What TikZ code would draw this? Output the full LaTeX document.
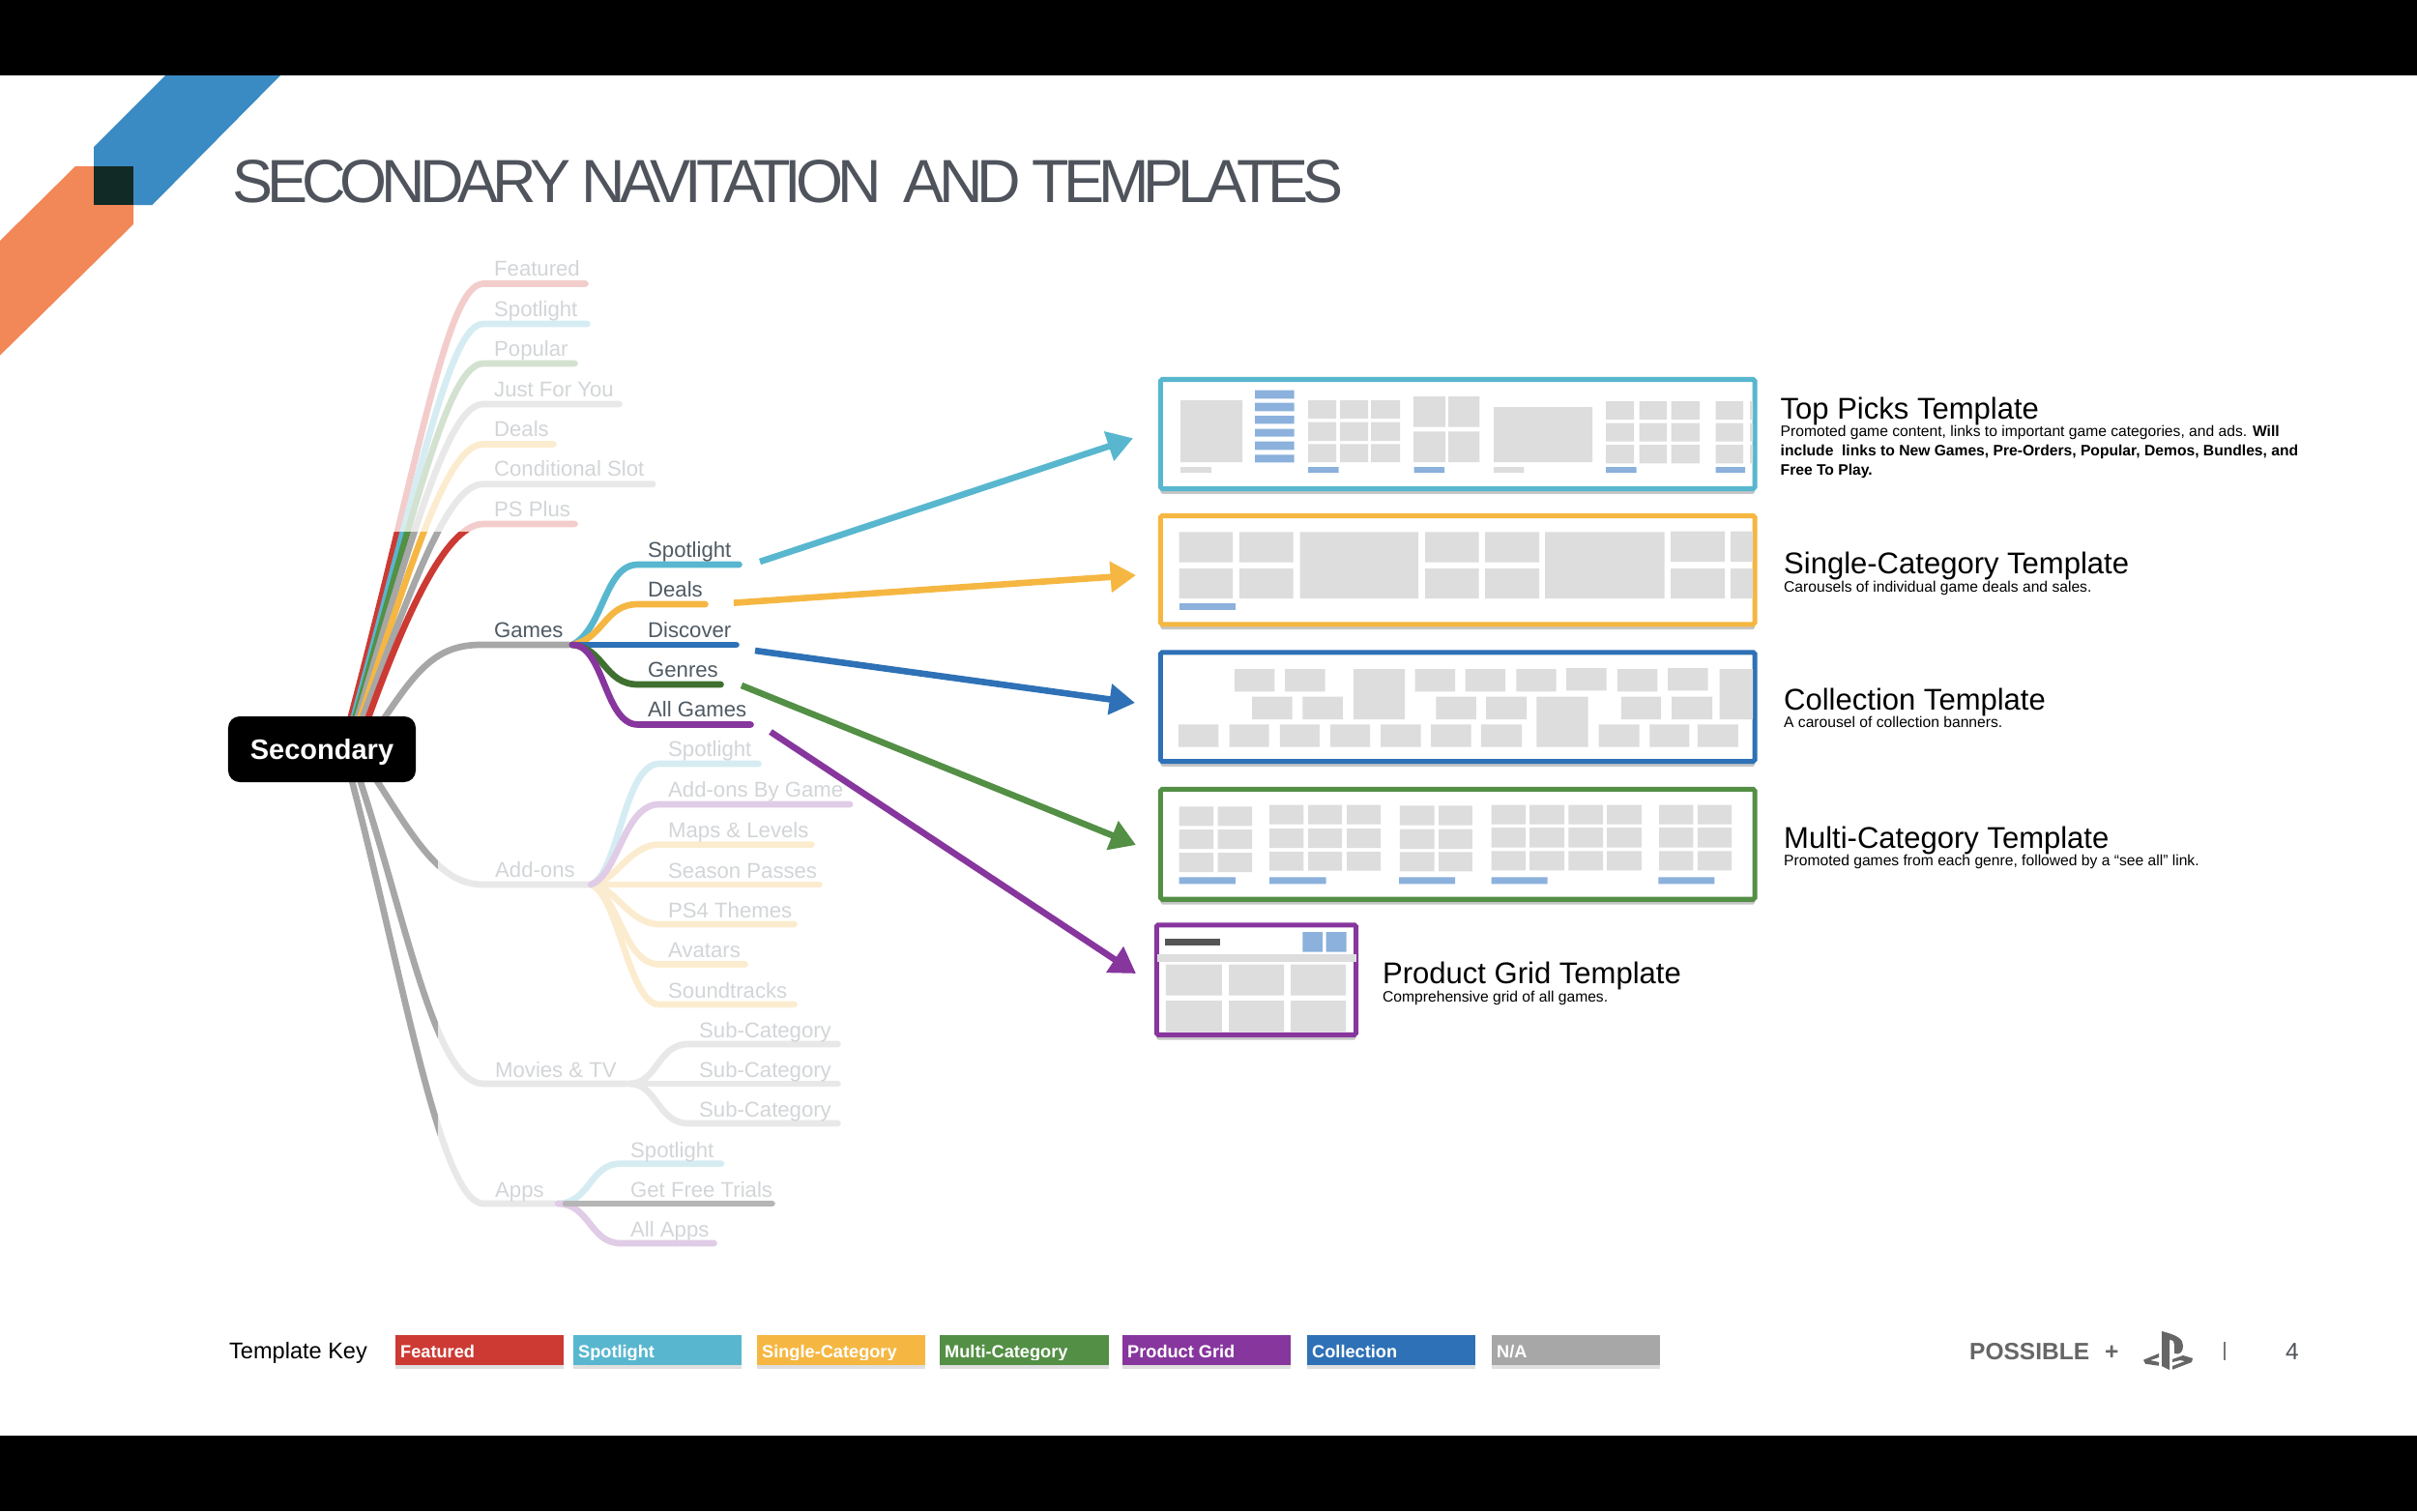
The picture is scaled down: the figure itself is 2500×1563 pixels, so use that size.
\documentclass[tikz,border=0pt]{standalone}
\usepackage{fontspec}
\setmainfont{Liberation Sans}
\newfontfamily\titlefont[LetterSpace=-9.5]{Liberation Sans}
\usetikzlibrary{arrows.meta,shadows}
\definecolor{tred}{HTML}{CC3A33}
\definecolor{tcyan}{HTML}{58B7CF}
\definecolor{tyellow}{HTML}{F5B742}
\definecolor{tgreen}{HTML}{538F45}
\definecolor{tdkgreen}{HTML}{3F7030}
\definecolor{tpurple}{HTML}{87369E}
\definecolor{tblue}{HTML}{2E71B6}
\definecolor{tgray}{HTML}{A6A7A6}
\definecolor{tile}{HTML}{DDDDDD}
\definecolor{tilebar}{HTML}{8BB1DC}
\definecolor{tiledark}{HTML}{555555}
\definecolor{ink}{HTML}{4F5A63}
\definecolor{titleink}{HTML}{4F535C}
\definecolor{footink}{HTML}{666666}
\definecolor{sepink}{HTML}{777777}
\definecolor{trialgray}{HTML}{B5B5B5}
\definecolor{logoblue}{HTML}{3A8AC4}
\definecolor{logoorange}{HTML}{F28757}
\definecolor{logodark}{HTML}{122A25}
\tikzset{
  branch/.style={line width=7.6pt,line cap=round,shorten >=4pt},
  jump/.style={line width=7.5pt,-{Triangle[length=30pt,width=35pt]}},
  lbl/.style={anchor=base west,text=ink,font=\fontsize{25.2pt}{30pt}\selectfont},
  tframe/.style={line width=5.7pt,fill=white,rounded corners=2pt,
    drop shadow={shadow xshift=0pt,shadow yshift=-6pt,opacity=.45}},
  ttitle/.style={anchor=base west,font=\fontsize{35.3pt}{40pt}\selectfont},
  tdesc/.style={anchor=base west,align=left,font=\fontsize{17.8pt}{22.5pt}\selectfont},
  keybox/.style={minimum width=6.98cm,minimum height=1.24cm,
    drop shadow={shadow xshift=0pt,shadow yshift=-4pt,opacity=.25}},
  keytext/.style={anchor=base west,text=white,font=\bfseries\fontsize{20.7pt}{24pt}\selectfont},
  foot/.style={anchor=base west,text=footink,font=\bfseries\fontsize{27.9pt}{32pt}\selectfont}
}
\begin{document}
\begin{tikzpicture}[x=0.04cm,y=0.04cm]
\tikzstyle{every node}+=[inner sep=0pt]
\useasboundingbox (0,0) rectangle (2500,-1563);
\fill [white] (0,0) rectangle (2500,-1563);
% slide bars and corner logo
\fill [black] (0,0) rectangle (2500,-78);
\fill [black] (0,-1484.5) rectangle (2500,-1563);
\fill [logoblue] (171,-78) -- (290,-78) -- (157.5,-212) -- (97,-212) -- (97,-152) -- cycle;
\fill [logoorange] (78,-172) -- (138,-172) -- (138,-232) -- (0,-367.6) -- (0,-249) -- cycle;
\fill [logodark] (97,-172) rectangle (138,-212);
\node [anchor=base west,text=titleink,font=\titlefont\fontsize{71.7pt}{80pt}\selectfont] (slidetitle) at (240,-209) {SECONDARY NAVITATION\ \ AND TEMPLATES};

% first level, top fan
\coordinate (fana) at (362,-745);
\coordinate (fanb) at (365,-745);
\coordinate (fanc) at (367,-745);
\coordinate (fand) at (369,-745);
\coordinate (fane) at (372,-745);
\coordinate (fanf) at (374,-745);
\coordinate (fang) at (380,-745);
\coordinate (featurede) at (609,-293.5);
\coordinate (spotlighte) at (611,-335);
\coordinate (populare) at (598,-376);
\coordinate (juste) at (644,-418);
\coordinate (dealse) at (576,-459.5);
\coordinate (conde) at (678.6,-500.7);
\coordinate (plus) at (598,-542);
\draw [branch,tred] (fana) .. controls (435,-470) and (462,-293.5) .. (500,-293.5) -- (featurede);
\draw [branch,tcyan] (fanb) .. controls (435,-490) and (465,-335) .. (500,-335) -- (spotlighte);
\draw [branch,tgreen] (fanc) .. controls (433,-510) and (465,-376) .. (500,-376) -- (populare);
\draw [branch,tgray] (fand) .. controls (432,-535) and (465,-418) .. (500,-418) -- (juste);
\draw [branch,tyellow] (fane) .. controls (432,-560) and (465,-459.5) .. (500,-459.5) -- (dealse);
\draw [branch,tgray] (fanf) .. controls (432,-590) and (465,-500.7) .. (500,-500.7) -- (conde);
\draw [branch,tred] (fang) .. controls (425,-620) and (465,-542) .. (500,-542) -- (plus);
\node [lbl] (featured) at (511,-285.5) {Featured};
\node [lbl] (spotlight) at (511,-327) {Spotlight};
\node [lbl] (popular) at (511,-368) {Popular};
\node [lbl] (just) at (511,-410) {Just For You};
\node [lbl] (deals) at (511,-451.5) {Deals};
\node [lbl] (cond) at (511,-492.7) {Conditional Slot};
\node [lbl] (psplus) at (511,-534) {PS Plus};

% games
\coordinate (fanh) at (396,-745);
\coordinate (gamesfork) at (592,-667);
\coordinate (gspote) at (768,-584);
\coordinate (gdeale) at (733,-625);
\coordinate (gdisce) at (765,-667);
\coordinate (ggenre) at (749,-708);
\coordinate (gallge) at (780,-749.5);
\draw [branch,tgray] (fanh) .. controls (430,-695) and (450,-667) .. (497,-667) -- (gamesfork);
\draw [branch,tcyan] (gamesfork) .. controls (625,-650) and (625,-584) .. (660,-584) -- (gspote);
\draw [branch,tyellow] (gamesfork) .. controls (625,-660) and (625,-625) .. (660,-625) -- (gdeale);
\draw [branch,tblue] (gamesfork) -- (gdisce);
\draw [branch,tdkgreen] (gamesfork) .. controls (625,-670) and (625,-708) .. (660,-708) -- (ggenre);
\draw [branch,tpurple] (gamesfork) .. controls (625,-667) and (625,-749.5) .. (660,-749.5) -- (gallge);
\node [lbl] (games) at (511,-659) {Games};
\node [lbl] (gspot) at (670,-576) {Spotlight};
\node [lbl] (gdeal) at (670,-617) {Deals};
\node [lbl] (gdisc) at (670,-659) {Discover};
\node [lbl] (ggenr) at (670,-700) {Genres};
\node [lbl] (gallg) at (670,-741.5) {All Games};

% lower branches
\coordinate (fani) at (385,-800);
\coordinate (fanj) at (370,-800);
\coordinate (fank) at (362,-800);
\coordinate (addfork) at (611,-915);
\coordinate (movfork) at (651,-1121);
\coordinate (appfork) at (577,-1245);
\draw [branch,tgray] (fani) .. controls (430,-870) and (455,-915) .. (500,-915) -- (addfork);
\draw [branch,tgray] (fanj) .. controls (420,-950) and (450,-1121) .. (500,-1121) -- (movfork);
\draw [branch,tgray] (fank) .. controls (415,-1000) and (455,-1245) .. (500,-1245) -- (appfork);
\coordinate (aspote) at (788,-790);
\coordinate (agamee) at (882.6,-832);
\coordinate (amape) at (843,-873.6);
\coordinate (aseae) at (851,-915);
\coordinate (athee) at (825,-956);
\coordinate (aavae) at (774,-997.5);
\coordinate (asnde) at (825,-1039);
\draw [branch,tyellow] (addfork) -- (aseae);
\draw [branch,tyellow] (addfork) .. controls (635,-915) and (650,-873.6) .. (682,-873.6) -- (amape);
\draw [branch,tyellow] (addfork) .. controls (635,-915) and (650,-956) .. (682,-956) -- (athee);
\draw [branch,tyellow] (addfork) .. controls (640,-925) and (645,-997.5) .. (682,-997.5) -- (aavae);
\draw [branch,tyellow] (addfork) .. controls (640,-925) and (650,-1039) .. (682,-1039) -- (asnde);
\draw [branch,tcyan] (addfork) .. controls (640,-905) and (645,-790) .. (682,-790) -- (aspote);
\draw [branch,tpurple] (addfork) .. controls (640,-905) and (645,-832) .. (682,-832) -- (agamee);
\coordinate (msuba) at (870,-1080);
\coordinate (msubb) at (870,-1121);
\coordinate (msubc) at (870,-1162);
\draw [branch,tgray] (movfork) .. controls (680,-1121) and (680,-1080) .. (712,-1080) -- (msuba);
\draw [branch,tgray] (movfork) -- (msubb);
\draw [branch,tgray] (movfork) .. controls (680,-1121) and (680,-1162) .. (712,-1162) -- (msubc);
\coordinate (pspote) at (749.5,-1203.6);
\coordinate (pfreee) at (802,-1245);
\coordinate (palle) at (742,-1286);
\draw [branch,tcyan] (appfork) .. controls (610,-1245) and (610,-1203.6) .. (642,-1203.6) -- (pspote);
\draw [branch,tpurple] (appfork) .. controls (610,-1245) and (610,-1286) .. (642,-1286) -- (palle);
\node [lbl] (addons) at (512,-907.5) {Add-ons};
\node [lbl] (movies) at (512,-1114.5) {Movies \& TV};
\node [lbl] (apps) at (512,-1238.5) {Apps};
\node [lbl] (aspot) at (691,-782.5) {Spotlight};
\node [lbl] (agame) at (691,-824.5) {Add-ons By Game};
\node [lbl] (amap) at (691,-866.5) {Maps \& Levels};
\node [lbl] (asea) at (691,-908) {Season Passes};
\node [lbl] (athe) at (691,-949) {PS4 Themes};
\node [lbl] (aava) at (691,-990.5) {Avatars};
\node [lbl] (asnd) at (691,-1032) {Soundtracks};
\node [lbl] (msa) at (723,-1073.5) {Sub-Category};
\node [lbl] (msb) at (723,-1114.5) {Sub-Category};
\node [lbl] (msc) at (723,-1155.5) {Sub-Category};
\node [lbl] (pspot) at (652,-1197) {Spotlight};
\node [lbl] (pfree) at (652,-1238.5) {Get Free Trials};
\node [lbl] (pall) at (652,-1279.5) {All Apps};

% white veils over the inactive branches
\fill [white,opacity=.75] (405,-250) rectangle (700,-550);
\fill [white,opacity=.75] (452.5,-756) rectangle (900,-1300);
\draw [branch,trialgray] (appfork) ++(8,0) -- (pfreee);

\node [fill=black,rounded corners=13.6pt,minimum width=7.76cm,minimum height=2.72cm,text=white,text depth=0pt,font=\bfseries\fontsize{33pt}{38pt}\selectfont] (secondary) at (333,-775) {Secondary};

% template frames
\node [tframe,draw=tcyan,minimum width=24.58cm,minimum height=4.52cm] (toppicks) at (1507.75,-449) {};
\node [tframe,draw=tyellow,minimum width=24.58cm,minimum height=4.49cm] (single) at (1507.75,-589.65) {};
\node [tframe,draw=tblue,minimum width=24.58cm,minimum height=4.51cm] (collection) at (1507.75,-731.15) {};
\node [tframe,draw=tgreen,minimum width=24.58cm,minimum height=4.55cm] (multi) at (1507.75,-873.35) {};
\node [tframe,draw=tpurple,minimum width=8.25cm,minimum height=4.54cm] (grid) at (1299.4,-1013.5) {};

% top picks tiles
\fill [tile] (1221,-414) rectangle (1285,-478) (1221,-483) rectangle (1253,-489);
\fill [tilebar] (1298,-403.7) rectangle (1338.5,-412.3) (1298,-416.7) rectangle (1338.5,-425.3) (1298,-430) rectangle (1338.5,-438.3) (1298,-443.7) rectangle (1338.5,-451.7) (1298,-456.7) rectangle (1338.5,-465.3) (1298,-470.3) rectangle (1338.5,-478.3);
\fill [tile] (1353,-414) rectangle (1382,-433) (1386,-414) rectangle (1415,-433) (1418,-414) rectangle (1448,-433);
\fill [tile] (1353,-436.7) rectangle (1382,-456) (1386,-436.7) rectangle (1415,-456) (1418,-436.7) rectangle (1448,-456);
\fill [tile] (1353,-459.3) rectangle (1382,-478) (1386,-459.3) rectangle (1415,-478) (1418,-459.3) rectangle (1448,-478);
\fill [tile] (1462,-410) rectangle (1495,-441.7) (1498,-410) rectangle (1530.4,-441.7) (1462,-446.3) rectangle (1495,-478) (1498,-446.3) rectangle (1530.4,-478);
\fill [tile] (1545,-421) rectangle (1647,-478) (1545,-483) rectangle (1576.4,-489);
\fill [tile] (1661,-415) rectangle (1690,-434) (1695.6,-415) rectangle (1724,-434) (1728.7,-415) rectangle (1758,-434) (1774.6,-415) rectangle (1803,-434) (1810,-415) rectangle (1813,-434);
\fill [tile] (1661,-437.7) rectangle (1690,-456.7) (1695.6,-437.7) rectangle (1724,-456.7) (1728.7,-437.7) rectangle (1758,-456.7) (1774.6,-437.7) rectangle (1803,-456.7) (1810,-437.7) rectangle (1813,-456.7);
\fill [tile] (1661,-460) rectangle (1690,-479.3) (1695.6,-460) rectangle (1724,-479.3) (1728.7,-460) rectangle (1758,-479.3) (1774.6,-460) rectangle (1803,-479.3) (1810,-460) rectangle (1813,-479.3);
\fill [tilebar] (1353,-483) rectangle (1384.5,-489) (1462.6,-483) rectangle (1494,-489) (1661,-483) rectangle (1692.5,-489) (1774.6,-483) rectangle (1805,-489);

% single category tiles
\fill [tile] (1219.7,-550.3) rectangle (1275,-581.7) (1281.8,-550.3) rectangle (1337.6,-581.7) (1474,-550.3) rectangle (1529.5,-581.7) (1536,-550.3) rectangle (1592,-581.7) (1728,-549.7) rectangle (1784,-581) (1790,-549.7) rectangle (1813,-581);
\fill [tile] (1219.7,-588) rectangle (1275,-619) (1281.8,-588) rectangle (1337.6,-619) (1474,-588) rectangle (1529.5,-619) (1536,-588) rectangle (1592,-619) (1728,-588) rectangle (1784,-619) (1790,-588) rectangle (1813,-619);
\fill [tile] (1344.7,-550.3) rectangle (1467,-619) (1598,-550.3) rectangle (1721.5,-619);
\fill [tilebar] (1219.7,-624.3) rectangle (1277.8,-631);

% collection tiles
\fill [tile] (1276.9,-692) rectangle (1318.4,-715.3) (1329.1,-692) rectangle (1370.6,-715.3) (1400.1,-692) rectangle (1453.2,-744) (1463.5,-692) rectangle (1505,-715.3) (1515.7,-692) rectangle (1557.2,-715.3) (1568.4,-692) rectangle (1609.5,-715.3) (1620.2,-691) rectangle (1661.7,-714.3) (1672.9,-692) rectangle (1714.4,-715.3) (1725.1,-691) rectangle (1766.6,-714.3) (1778.7,-692) rectangle (1813,-744);
\fill [tile] (1295.2,-720.7) rectangle (1336.7,-744) (1347.4,-720.7) rectangle (1388.9,-744) (1485.4,-720.7) rectangle (1526.9,-744) (1537.1,-720.7) rectangle (1579.1,-744) (1589.4,-720.7) rectangle (1642.5,-772.7) (1676.9,-720.7) rectangle (1718,-744) (1729.1,-720.7) rectangle (1771.1,-744);
\fill [tile] (1218.8,-749.3) rectangle (1260.4,-772.7) (1271.5,-749.3) rectangle (1312.6,-772.7) (1323.8,-749.3) rectangle (1364.8,-772.7) (1376,-749.3) rectangle (1417,-772.7) (1428.2,-749.3) rectangle (1469.7,-772.7) (1480,-749.3) rectangle (1521.5,-772.7) (1531.8,-749.3) rectangle (1574.2,-772.7) (1653.7,-749.3) rectangle (1695.6,-772.7) (1706.3,-749.3) rectangle (1747.4,-772.7) (1755.9,-749.3) rectangle (1797.9,-772.7);

% multi category tiles
\fill [tile] (1219.7,-834.3) rectangle (1255,-854.3) (1259.5,-834.3) rectangle (1295.2,-854.3) (1219.7,-858) rectangle (1255,-878) (1259.5,-858) rectangle (1295.2,-878) (1219.7,-882) rectangle (1255,-902) (1259.5,-882) rectangle (1295.2,-902);
\fill [tile] (1313,-832.7) rectangle (1348.3,-852.7) (1353.2,-832.7) rectangle (1388,-852.7) (1393,-832.7) rectangle (1428.2,-852.7) (1313,-857) rectangle (1348.3,-877) (1353.2,-857) rectangle (1388,-877) (1393,-857) rectangle (1428.2,-877) (1313,-881) rectangle (1348.3,-900.7) (1353.2,-881) rectangle (1388,-900.7) (1393,-881) rectangle (1428.2,-900.7);
\fill [tile] (1447.9,-833.3) rectangle (1483.6,-853.7) (1488,-833.3) rectangle (1522.9,-853.7) (1447.9,-857.7) rectangle (1483.6,-878) (1488,-857.7) rectangle (1522.9,-878) (1447.9,-881.3) rectangle (1483.6,-901.3) (1488,-881.3) rectangle (1522.9,-901.3);
\fill [tile] (1542.5,-832.7) rectangle (1578.2,-852.7) (1582.2,-832.7) rectangle (1618,-852.7) (1622.4,-832.7) rectangle (1658,-852.7) (1662,-832.7) rectangle (1697.9,-852.7);
\fill [tile] (1542.5,-856) rectangle (1578.2,-876.7) (1582.2,-856) rectangle (1618,-876.7) (1622.4,-856) rectangle (1658,-876.7) (1662,-856) rectangle (1697.9,-876.7);
\fill [tile] (1542.5,-880.3) rectangle (1578.2,-900.3) (1582.2,-880.3) rectangle (1618,-900.3) (1622.4,-880.3) rectangle (1658,-900.3) (1662,-880.3) rectangle (1697.9,-900.3);
\fill [tile] (1716.2,-832.7) rectangle (1751.4,-852.7) (1755.9,-832.7) rectangle (1791.2,-852.7) (1716.2,-856) rectangle (1751.4,-876.7) (1755.9,-856) rectangle (1791.2,-876.7) (1716.2,-880.3) rectangle (1751.4,-900.3) (1755.9,-880.3) rectangle (1791.2,-900.3);
\fill [tilebar] (1219.7,-907.3) rectangle (1277.8,-914.3) (1313,-907.3) rectangle (1371.5,-914.3) (1447,-907.3) rectangle (1505,-914.3) (1542.5,-907.3) rectangle (1600.5,-914.3) (1715.3,-907.3) rectangle (1773.3,-914.3);

% product grid tiles
\fill [tiledark] (1205,-970.7) rectangle (1262,-977.7);
\fill [tilebar] (1347.4,-964) rectangle (1368,-984.7) (1371.5,-964) rectangle (1392.5,-984.7);
\fill [tile] (1196.5,-987) rectangle (1402.8,-995);
\fill [tile] (1205.9,-997.7) rectangle (1263.9,-1029.7) (1271,-997.7) rectangle (1328.2,-1029.7) (1335,-997.7) rectangle (1392,-1029.7);
\fill [tile] (1205.9,-1035) rectangle (1263.9,-1067.3) (1271,-1035) rectangle (1328.2,-1067.3) (1335,-1035) rectangle (1392,-1067.3);

% arrows from the games menu to the templates
\coordinate (tailspot) at (786,-581);
\coordinate (taildeal) at (759,-623.6);
\coordinate (taildisc) at (781,-673);
\coordinate (tailgenr) at (767,-709);
\coordinate (tailgall) at (797,-757);
\coordinate (tipspot) at (1172,-453.3);
\coordinate (tipdeal) at (1175,-595);
\coordinate (tipdisc) at (1174,-727);
\coordinate (tipgenr) at (1175,-874);
\coordinate (tipgall) at (1175,-1007);
\draw [jump,tcyan] (tailspot) -- (tipspot);
\draw [jump,tyellow] (taildeal) -- (tipdeal);
\draw [jump,tblue] (taildisc) -- (tipdisc);
\draw [jump,tgreen] (tailgenr) -- (tipgenr);
\draw [jump,tpurple] (tailgall) -- (tipgall);

% template captions
\node [ttitle] (toptitle) at (1841.5,-433) {Top Picks Template};
\node [tdesc] (topdesc) at (1841.5,-491) {Promoted game content, links to important game categories, and ads. \textbf{Will}\\\textbf{include\ \ links to New Games, Pre-Orders, Popular, Demos, Bundles, and}\\\textbf{Free To Play.}};
\node [ttitle] (singletitle) at (1845,-593.6) {Single-Category Template};
\node [tdesc] (singledesc) at (1845,-612) {Carousels of individual game deals and sales.};
\node [ttitle] (colltitle) at (1845,-734) {Collection Template};
\node [tdesc] (colldesc) at (1845,-752) {A carousel of collection banners.};
\node [ttitle] (multititle) at (1845,-877.5) {Multi-Category Template};
\node [tdesc] (multidesc) at (1845,-895.4) {Promoted games from each genre, followed by a “see all” link.};
\node [ttitle] (gridtitle) at (1430,-1017.7) {Product Grid Template};
\node [tdesc] (griddesc) at (1430,-1036) {Comprehensive grid of all games.};

% template key
\node [anchor=base west,font=\fontsize{26.8pt}{30pt}\selectfont] (keytitle) at (237,-1405) {Template Key};
\node [keybox,fill=tred] (keyred) at (496,-1396.8) {};
\node [keybox,fill=tcyan] (keycyan) at (680,-1396.8) {};
\node [keybox,fill=tyellow] (keyyellow) at (870,-1396.8) {};
\node [keybox,fill=tgreen] (keygreen) at (1059.5,-1396.8) {};
\node [keybox,fill=tpurple] (keypurple) at (1248,-1396.8) {};
\node [keybox,fill=tblue] (keyblue) at (1439,-1396.8) {};
\node [keybox,fill=tgray] (keygray) at (1630,-1396.8) {};
\begin{scope}
\clip (400,-1370) rectangle (1720,-1406.5);
\node [keytext] (keya) at (414,-1404.5) {Featured};
\node [keytext] (keyb) at (598,-1404.5) {Spotlight};
\node [keytext] (keyc) at (788,-1404.5) {Single-Category};
\node [keytext] (keyd) at (977,-1404.5) {Multi-Category};
\node [keytext] (keye) at (1166,-1404.5) {Product Grid};
\node [keytext] (keyf) at (1357,-1404.5) {Collection};
\node [keytext] (keyg) at (1548,-1404.5) {N/A};
\end{scope}

% footer
\node [foot] (possible) at (2037,-1406) {POSSIBLE};
\node [foot] (plussign) at (2177,-1406) {+};
\fill [footink] (2236,-1377) -- (2236,-1413) -- (2244,-1417) -- (2244,-1386) .. controls (2248,-1386) and (2249,-1388) .. (2249,-1391) -- (2249,-1400) .. controls (2255,-1402) and (2258,-1398) .. (2258,-1392) .. controls (2258,-1385) and (2252,-1381) .. (2236,-1377) -- cycle;
\fill [footink] (2233,-1400) -- (2217,-1406.7) -- (2219,-1410.7) -- (2233,-1412.7) -- (2233,-1409) -- (2224,-1407) -- (2233,-1404) -- cycle;
\fill [footink] (2247,-1406) -- (2258,-1402) -- (2268,-1405) -- (2267,-1409) -- (2247,-1416.7) -- (2247,-1413) -- (2260,-1408) -- (2255,-1407) -- (2247,-1409) -- cycle;
\fill [sepink] (2299.5,-1388) rectangle (2302,-1407);
\node [anchor=base west,text=titleink,font=\fontsize{27.9pt}{32pt}\selectfont] (pagenum) at (2364,-1406) {4};
\end{tikzpicture}
\end{document}
